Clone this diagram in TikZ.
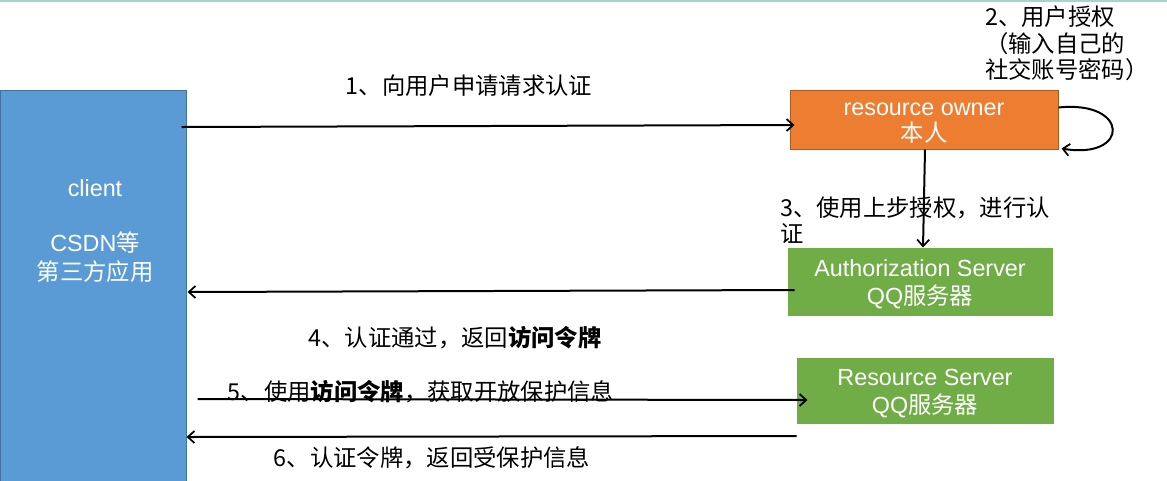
\documentclass[tikz,border=0pt]{standalone}
\usepackage{fontspec}
\setmainfont{Liberation Sans}
\newfontfamily\cjk{Noto Sans CJK SC}
\usetikzlibrary{arrows.meta,calc}
\def\pxu{0.75pt}
\definecolor{clientblue}{HTML}{5B9BD5}
\definecolor{clientedge}{HTML}{41719C}
\definecolor{ownerfill}{HTML}{ED7D31}
\definecolor{owneredge}{HTML}{AE5A21}
\definecolor{srvfill}{HTML}{70AD47}
\definecolor{topteal}{HTML}{A3D6CF}
\begin{document}
\begin{tikzpicture}[x=0.75pt,y=-0.75pt,
  box/.style={rectangle, inner sep=0pt, line width=0.75pt},
  lbl/.style={font=\cjk\fontsize{17.5}{20}\selectfont, text=black, inner sep=0pt},
  wtxt/.style={font=\fontsize{17.5}{21}\selectfont, text=white, align=center, inner sep=0pt},
  arr/.style={line width=1.5pt, -{Straight Barb[length=5pt,width=9pt,line width=1.3pt]}},
]
\useasboundingbox (0,0) rectangle (1167,480);
\draw[topteal, line width=1.5pt] (0,0.75) -- (1167,0.75);

% boxes
\node[box, fill=clientblue, draw=clientedge, minimum width=186*\pxu, minimum height=392*\pxu] (client) at (93,286.5) {};
\node[wtxt] (clienttxt) at (95,188) {client};
\node[wtxt, font=\fontsize{17.5}{21.75}\selectfont] (clientsub) at (95,257.5) {CSDN{\cjk 等}\\{\cjk 第三方应用}};

\node[box, fill=ownerfill, draw=owneredge, minimum width=268*\pxu, minimum height=59*\pxu] (owner) at (924,119.5) {};
\node[wtxt, font=\fontsize{17.5}{19.5}\selectfont] (ownertxt) at ($(owner.center)+(0,4)$) {resource owner\\{\cjk 本人}};
\node[box, fill=srvfill, draw=srvfill, minimum width=264*\pxu, minimum height=67*\pxu] (auth) at (920,281.5) {};
\node[wtxt] (authtxt) at ($(auth.center)+(0,3)$) {Authorization Server\\QQ{\cjk 服务器}};
\node[box, fill=srvfill, draw=srvfill, minimum width=256*\pxu, minimum height=65*\pxu] (res) at (925,390.5) {};
\node[wtxt] (restxt) at ($(res.center)+(0,3)$) {Resource Server\\QQ{\cjk 服务器}};

% arrows
\draw[arr] ($(client.north east)+(-5,37)$) -- ($(owner.west)+(5,5.5)$);
\draw[arr] ($(owner.east)+(0,-12)$) .. controls (1130,100) and (1130,160) .. ($(owner.south east)+(3,-1)$);
\draw[arr] ($(owner.south)+(1,0)$) -- ($(auth.north)+(3,0)$);
\draw[arr] ($(auth.west)+(7,8.5)$) -- ($(client.east |- auth.west)+(1,10.5)$);
\draw[arr] ($(client.east |- res.west)+(11,8.5)$) -- ($(res.west)+(11,9.5)$);
\draw[arr] ($(res.west)+(0,45.5)$) -- ($(client.east |- res.west)+(0,46.5)$);

% labels
\node[lbl] (l1) at (469,86) {1、向用户申请请求认证};
\node[lbl, anchor=west, align=left, font=\cjk\fontsize{17.5}{20}\selectfont] (l2) at (985,43.5) {2、用户授权\\（输入自己的\\社交账号密码）};
\node[lbl, anchor=west, align=left, font=\cjk\fontsize{17.5}{19.5}\selectfont] (l3) at (780,220) {3、使用上步授权，进行认\\证};
\node[lbl] (l4) at (455,338) {4、认证通过，返回\textbf{访问令牌}};
\node[lbl] (l5) at (421,392) {5、使用\textbf{访问令牌}，获取开放保护信息};
\node[lbl] (l6) at (432,458) {6、认证令牌，返回受保护信息};
\end{tikzpicture}
\end{document}
